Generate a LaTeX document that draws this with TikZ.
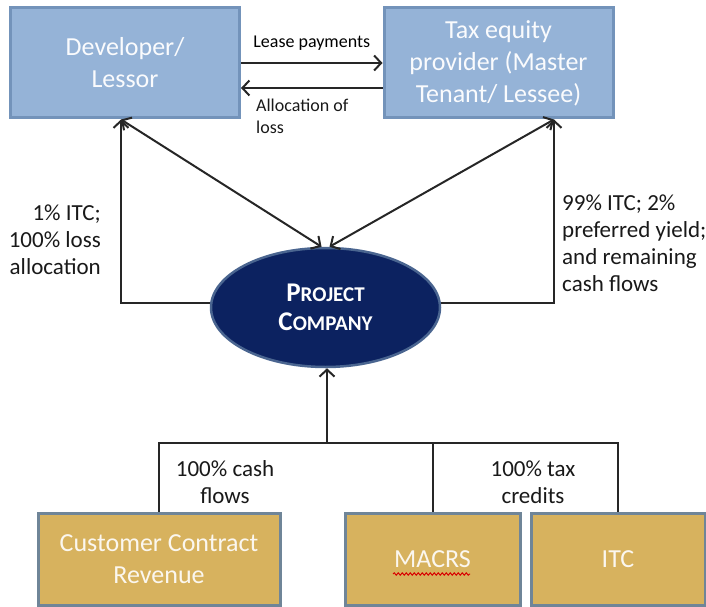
\documentclass[tikz,border=0pt]{standalone}
\usepackage{fontspec}
\setmainfont{Carlito}
\usetikzlibrary{arrows.meta,shapes.geometric,decorations.pathmorphing}
\definecolor{boxblue}{HTML}{95B3D7}
\definecolor{edgeblue}{HTML}{7393BA}
\definecolor{boxgold}{HTML}{D7B25E}
\definecolor{edgegold}{HTML}{6F8598}
\definecolor{navy}{HTML}{0C2260}
\definecolor{edgenavy}{HTML}{4A6590}

\begin{document}
\begin{tikzpicture}[x=1pt,y=-1pt,
  party/.style={draw=edgeblue,fill=boxblue,line width=3pt,text=white!95!boxblue,minimum width=229pt,minimum height=110pt,align=center,font=\fontsize{26}{32}\selectfont},
  source/.style={draw=edgegold,fill=boxgold,line width=3pt,text=white!90!boxgold,minimum height=92pt,align=center,font=\fontsize{26}{32}\selectfont},
  flow/.style={line width=2pt,draw=black!85,>={Straight Barb[length=7pt,width=15pt]}},
  note/.style={inner sep=0pt,text=black!90,font=\fontsize{23}{27}\selectfont}]
\useasboundingbox (0,0) rectangle (706,607);
\node[party] (dev) at (125,63) {Developer/\\Lessor};
\node[party] (tax) at (498.5,63) {Tax equity\\provider (Master\\Tenant/ Lessee)};
\node[ellipse,draw=edgenavy,fill=navy,line width=2.5pt,minimum width=229pt,minimum height=119pt,text=white,align=center,font=\bfseries\fontsize{21}{29}\selectfont] (proj) at (325.5,307.5) {{\fontsize{27}{29}\selectfont P}ROJECT\\{\fontsize{27}{29}\selectfont C}OMPANY};
\node[source,minimum width=242pt] (cust) at (159,559) {Customer Contract\\Revenue};
\node[source,minimum width=175pt] (macrs) at (432.5,559) {MACRS};
\node[source,minimum width=174pt] (itc) at (618,559) {ITC};
\coordinate (devfoot) at ([xshift=-4pt]dev.south);
\coordinate (taxfoot) at ([xshift=55.5pt]tax.south);
\coordinate (hub) at (327,443);
% lease
\draw[flow,->] (dev.east) -- (tax.west) node[midway,above=12pt,inner sep=0pt,font=\fontsize{18}{22}\selectfont] {Lease payments};
\draw[flow,->] ([yshift=-25pt]tax.west) -- ([yshift=-25pt]dev.east);
\node[note,font=\fontsize{18}{22}\selectfont,align=left,anchor=west] (alloc) at (256,116) {Allocation of\\loss};
% project company
\draw[flow,<->] (devfoot) -- ([xshift=-4pt]proj.north);
\draw[flow,<->] (taxfoot) -- ([xshift=4pt]proj.north);
\draw[flow,->] ([yshift=4.5pt]proj.west) -| (devfoot);
\draw[flow,->] ([yshift=4.5pt]proj.east) -| (taxfoot);
\node[note,align=right,anchor=east] (devshare) at (101,240) {1\% ITC;\\100\% loss\\allocation};
\node[note,align=left,anchor=west] (taxshare) at (562,243) {99\% ITC; 2\%\\preferred yield;\\and remaining\\cash flows};
% sources
\draw[flow] (cust.north) |- (hub) -| (itc.north);
\draw[flow] (macrs.north) -- (macrs.north |- hub);
\draw[flow,->] (hub) -- (hub |- proj.south);
\node[note,align=center] (cashlbl) at (225,482) {100\% cash\\flows};
\node[note,align=center] (creditlbl) at (533,482) {100\% tax\\credits};
\draw[red!85!black,line width=1pt,decorate,decoration={snake,amplitude=1.2pt,segment length=4pt}] (393,574) -- (470,574);
\end{tikzpicture}
\end{document}
